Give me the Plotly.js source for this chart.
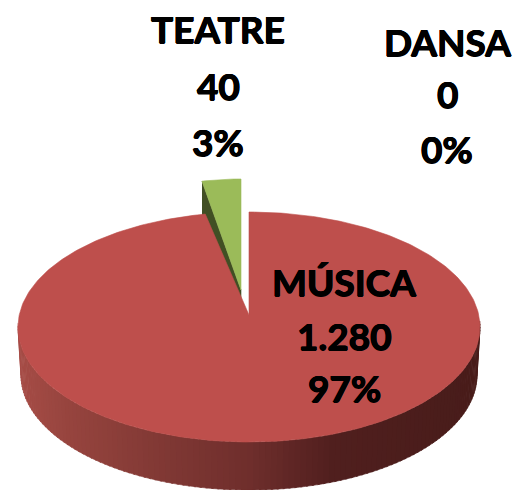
<!DOCTYPE html>
<html>
<head>
<meta charset="utf-8">
<script src="https://cdn.plot.ly/plotly-3.0.1.min.js"></script>
<style>html,body{margin:0;padding:0;background:#fff}#c{width:514px;height:490px}</style>
</head>
<body>
<div id="c"></div>
<script>
var categories = ["MÚSICA", "DANSA", "TEATRE"];
var values = [1280, 0, 40];
var valueLabels = ["1.280", "0", "40"];
var percentLabels = ["97%", "0%", "3%"];

var RED = "#BE4F4C", GREEN = "#9BBB59", GREEN_WALL = "#414F24";
var total = values.reduce(function (a, b) { return a + b; }, 0);
var rad = Math.PI / 180;

// projected disc geometry per slice
var discs = {
  "MÚSICA": {cx: 249, cy: 327, rx: 231, ry: 115, ax: 249, ay: 315, color: RED},
  "TEATRE": {cx: 241, cy: 300, rx: 206, ry: 121, ax: 241, ay: 290, color: GREEN}
};
var labelPos = {
  "MÚSICA": {x: 344, y: [281, 335, 387]},
  "DANSA": {x: 447, y: [41, 93, 148]},
  "TEATRE": {x: 218, y: [28, 85, 141]}
};
var wallDepth = 48, wallRx = 228, wallCy = 375, wallRy = 115;

function rim(d, deg) {
  return [d.cx + d.rx * Math.sin(deg * rad), d.cy - d.ry * Math.cos(deg * rad)];
}
function poly(pts, color) {
  return {
    x: pts.map(function (p) { return p[0]; }),
    y: pts.map(function (p) { return p[1]; }),
    mode: "lines", fill: "toself", fillcolor: color,
    line: {color: color, width: 0.6}, hoverinfo: "skip", showlegend: false, type: "scatter"
  };
}
function sector(d, a0, a1) {
  var pts = [[d.ax, d.ay]];
  var n = Math.max(2, Math.ceil(a1 - a0));
  for (var i = 0; i <= n; i++) pts.push(rim(d, a0 + (a1 - a0) * i / n));
  pts.push([d.ax, d.ay]);
  return pts;
}
// side shading, dark on the right, by horizontal position
var stops = [[18, [166, 76, 70]], [70, [150, 68, 62]], [165, [128, 56, 52]], [250, [111, 46, 44]], [335, [80, 31, 30]], [480, [72, 28, 26]]];
function shade(x) {
  for (var i = 1; i < stops.length; i++) {
    if (x <= stops[i][0]) {
      var f = (x - stops[i - 1][0]) / (stops[i][0] - stops[i - 1][0]);
      var a = stops[i - 1][1], b = stops[i][1];
      return "rgb(" + [0, 1, 2].map(function (k) { return Math.round(a[k] + (b[k] - a[k]) * Math.max(0, f)); }).join(",") + ")";
    }
  }
  return "rgb(72,28,26)";
}

var traces = [];
var start = 0, angles = {};
categories.forEach(function (c, i) {
  var sweep = values[i] / total * 360;
  angles[c] = [start, start + sweep];
  start += sweep;
});

// cut wall of the pulled-out TEATRE slice
var dT = discs["TEATRE"], aT = angles["TEATRE"], pT = rim(dT, aT[0]);
traces.push(poly([pT, [dT.ax, dT.ay], [dT.ax, dT.ay + wallDepth], [pT[0], pT[1] + wallDepth]], GREEN_WALL));
traces.push(poly(sector(dT, aT[0], aT[1]), GREEN));

// outer wall of the MÚSICA slice
var dM = discs["MÚSICA"];
var wall = {cx: dM.cx, cy: wallCy, rx: wallRx, ry: wallRy};
for (var t = 272; t > 88; t -= 1.5) {
  var t2 = t - 2;
  var a = rim(dM, t), b = rim(dM, t2);
  var c = rim(wall, t2), e = rim(wall, t);
  traces.push(poly([a, b, c, e], shade((a[0] + b[0]) / 2)));
}
traces.push(poly(sector(dM, angles["MÚSICA"][0], angles["MÚSICA"][1]), RED));

var annotations = [];
categories.forEach(function (c, i) {
  [c, valueLabels[i], percentLabels[i]].forEach(function (txt, k) {
    annotations.push({
      x: labelPos[c].x, y: labelPos[c].y[k], xref: "x", yref: "y", text: txt, showarrow: false,
      xanchor: "center", yanchor: "middle",
      font: {family: "Lato, Carlito, sans-serif", size: 37, color: "#000", weight: 700,
             shadow: "0.6px 0 0 #000, -0.6px 0 0 #000, 0 0.5px 0 #000, 0 -0.5px 0 #000"}
    });
  });
});

Plotly.newPlot("c", traces, {
  width: 514, height: 490,
  margin: {l: 0, r: 0, t: 0, b: 0},
  paper_bgcolor: "#fff", plot_bgcolor: "#fff",
  showlegend: false,
  xaxis: {range: [0, 514], visible: false, fixedrange: true},
  yaxis: {range: [490, 0], visible: false, fixedrange: true},
  annotations: annotations
}, {displayModeBar: false, staticPlot: true});
</script>
</body>
</html>
